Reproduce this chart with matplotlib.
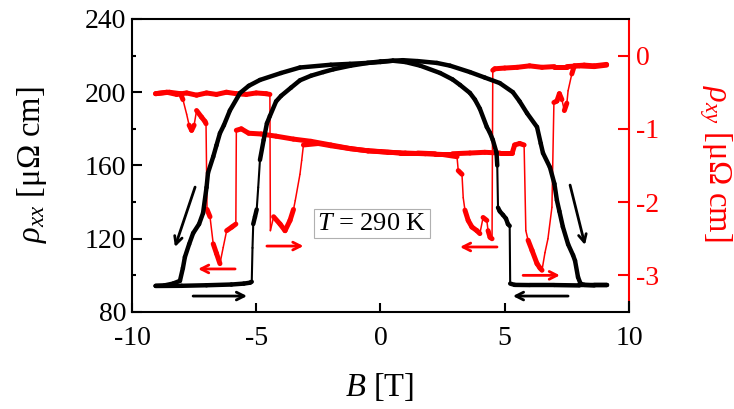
import numpy as np
import matplotlib
matplotlib.use('Agg')
import matplotlib.pyplot as plt
from matplotlib.collections import LineCollection

plt.rcParams['font.family'] = ['Liberation Serif', 'DejaVu Serif']
plt.rcParams['mathtext.fontset'] = 'custom'
plt.rcParams['mathtext.rm'] = 'Liberation Serif'
plt.rcParams['mathtext.it'] = 'Liberation Serif:italic'
plt.rcParams['axes.unicode_minus'] = False

# ---------------- data ----------------
# rho_xx, sweep -9 T -> +9 T
rxx_up_B = [-9.05, -8.0, -7.0, -6.0, -5.5, -5.25, -5.18, -5.15, -5.12, -5.05, -4.98, -4.92,
            -4.85, -4.7, -4.57, -4.45, -4.2, -4.0, -3.6, -3.24, -2.8, -2.3, -1.9, -1.2, -0.5,
            0.0, 0.5, 0.9, 1.5, 2.27, 2.8, 3.6, 4.2, 4.8, 5.33, 5.6, 5.9, 6.3, 6.45, 6.54,
            6.82, 7.0, 7.1, 7.2, 7.34, 7.55, 7.75, 7.83, 7.95, 8.05, 8.2, 8.6, 9.1]
rxx_up = [94.2, 94.3, 94.6, 95.0, 95.5, 96.0, 96.5, 115, 128, 132, 136, 148,
          163, 174, 183, 187, 195, 198, 202.5, 206.5, 209, 211, 212.5, 214.5, 216,
          216.5, 217.2, 217.5, 217, 216, 214.5, 211, 208, 205, 200, 195, 188.5, 181, 172, 166.8,
          159, 150, 141, 135, 126.5, 117, 111, 108, 99, 95.5, 94.8, 94.5, 94.5]

# rho_xx, sweep +9 T -> -9 T
rxx_dn_B = [9.1, 8.0, 7.0, 6.0, 5.4, 5.22, 5.2, 5.13, 5.05, 4.93, 4.8, 4.73, 4.7, 4.67,
            4.52, 4.4, 4.28, 4.0, 3.8, 3.6, 3.2, 2.9, 2.4, 1.6, 1.0, 0.5, 0.0, -0.54, -1.23,
            -2.0, -3.24, -4.0, -4.85, -5.3, -5.65, -6.06, -6.3, -6.46, -6.6, -6.73, -6.94,
            -7.0, -7.14, -7.3, -7.54, -7.7, -7.87, -7.95, -8.07, -8.35, -8.7, -9.05]
rxx_dn = [94.5, 94.5, 94.7, 94.7, 94.8, 95.5, 127, 128, 131, 133, 135, 137, 160, 167,
          174, 178, 181, 191, 196, 199.6, 204, 207, 210.5, 214.5, 216.5, 217.2, 216.8, 216, 215.5,
          215, 213.5, 210.5, 206.7, 203.5, 199.6, 190, 182, 177.6, 171, 164.8, 156,
          148, 134, 128, 123, 117, 110, 104, 97, 95.5, 94.5, 94.3]

# rho_xy, sweep -9 T -> +9 T
rxy_up_B = [-9.05, -8.6, -8.2, -7.8, -7.4, -7.0, -6.6, -6.2, -5.8, -5.4, -5.0, -4.6, -4.45,
            -4.43, -4.3, -4.04, -3.84, -3.64, -3.5, -3.43, -3.24, -3.17, -3.1,
            -2.5, -2.0, -1.23, -0.5, 0.0, 0.8, 1.5, 2.2, 2.9, 3.6, 4.2, 4.8, 5.3,
            5.4, 5.6, 5.78, 5.85, 5.94, 6.1, 6.3, 6.42, 6.5, 6.62, 6.74, 6.9,
            6.98, 7.1, 7.2, 7.3, 7.4, 7.5, 7.55, 7.7, 7.8, 8.2, 8.6, 9.1]
rxy_up = [-0.52, -0.50, -0.53, -0.51, -0.54, -0.51, -0.53, -0.50, -0.52, -0.53, -0.51, -0.52, -0.53,
          -2.39, -2.2, -2.3, -2.39, -2.25, -2.1, -1.98, -1.62, -1.43, -1.22,
          -1.2, -1.23, -1.27, -1.3, -1.31, -1.33, -1.33, -1.34, -1.34, -1.33, -1.32, -1.33, -1.33,
          -1.22, -1.2, -1.22, -2.39, -2.52, -2.66, -2.84, -2.9, -2.93, -2.69, -2.5, -2.07,
          -0.64, -0.62, -0.52, -0.6, -0.75, -0.65, -0.48, -0.25, -0.14, -0.13, -0.14, -0.12]

# rho_xy, sweep +9 T -> -9 T
rxy_dn_B = [9.1, 8.6, 8.0, 7.5, 7.0, 6.5, 6.0, 5.5, 5.0, 4.6, 4.52,
            4.49, 4.41, 4.33, 4.28, 4.13, 4.0, 3.88, 3.68, 3.53, 3.4, 3.33, 3.28, 3.13,
            3.08, 2.5, 1.8, 1.0, 0.3, -0.5, -1.2, -2.0, -2.8, -3.5, -4.2, -4.8, -5.3, -5.6, -5.8,
            -5.82, -5.98, -6.19, -6.33, -6.46, -6.6, -6.73, -6.86, -6.98,
            -7.02, -7.06, -7.2, -7.4, -7.5, -7.6, -7.7, -7.8, -7.95, -8.05, -8.5, -9.05]
rxy_dn = [-0.13, -0.15, -0.14, -0.15, -0.15, -0.16, -0.14, -0.16, -0.17, -0.18, -0.2,
          -2.5, -2.48, -2.39, -2.25, -2.21, -2.43, -2.39, -2.34, -2.25, -2.11, -1.94, -1.62, -1.57,
          -1.38, -1.35, -1.34, -1.33, -1.32, -1.3, -1.27, -1.22, -1.17, -1.14, -1.1, -1.07, -1.06, -1.0, -1.02,
          -2.3, -2.34, -2.39, -2.62, -2.84, -2.7, -2.57, -2.2, -2.1,
          -0.93, -0.9, -0.84, -0.75, -0.95, -1.02, -0.95, -0.8, -0.6, -0.52, -0.5, -0.52]

x_ticks = [-10, -5, 0, 5, 10]
left_ticks = [80, 120, 160, 200, 240]
right_ticks = [0, -1, -2, -3]

RED = '#ff0000'

# ---------------- figure ----------------
fig = plt.figure(figsize=(7.34, 4.09), dpi=100)
ax1 = fig.add_axes([0.1798, 0.2372, 0.6771, 0.7164])
ax2 = ax1.twinx()

ax1.set_xlim(-10, 10)
ax1.set_ylim(80, 240)
ax2.set_ylim(-3.5, 0.5)

# black above red
ax1.set_zorder(ax2.get_zorder() + 1)
ax1.patch.set_visible(False)


def draw(ax, B, v, color, thick, thin, min_dy, ratio):
    B = np.asarray(B, float)
    v = np.asarray(v, float)
    pts = ax.transData.transform(np.column_stack([B, v]))
    d = np.diff(pts, axis=0)
    jump = (np.abs(d[:, 1]) > min_dy) & (np.abs(d[:, 0]) < ratio * np.abs(d[:, 1]))
    segs = np.stack([np.column_stack([B[:-1], v[:-1]]),
                     np.column_stack([B[1:], v[1:]])], axis=1)
    lw = np.where(jump, thin, thick)
    lc = LineCollection(segs, colors=color, linewidths=lw,
                        capstyle='round', joinstyle='round')
    ax.add_collection(lc)


draw(ax2, rxy_up_B, rxy_up, RED, 3.6, 1.1, 8, 0.3)
draw(ax2, rxy_dn_B, rxy_dn, RED, 3.6, 1.1, 8, 0.3)
draw(ax1, rxx_up_B, rxx_up, 'black', 3.2, 1.5, 20, 0.1)
draw(ax1, rxx_dn_B, rxx_dn, 'black', 3.2, 1.5, 20, 0.1)

# arrows
def arrow(ax, x0, y0, x1, y1, color):
    ax.annotate('', xy=(x1, y1), xytext=(x0, y0),
                arrowprops=dict(arrowstyle='->,head_length=0.55,head_width=0.28',
                                color=color, lw=2.0, shrinkA=0, shrinkB=0))

arrow(ax1, -7.46, 148.2, -8.27, 115.5, 'black')
arrow(ax1, -7.54, 88.7, -5.37, 88.7, 'black')
arrow(ax1, -5.85, 103.5, -7.34, 103.5, RED)
arrow(ax1, -4.57, 116.0, -3.1, 116.0, RED)
arrow(ax1, 4.69, 115.5, 3.2, 115.5, RED)
arrow(ax1, 5.74, 100.0, 7.22, 100.0, RED)
arrow(ax1, 7.55, 88.7, 5.33, 88.7, 'black')
arrow(ax1, 7.63, 149.3, 8.23, 116.6, 'black')

ax1.text(-0.36, 128.3, r'$T$ = 290 K', ha='center', va='center', fontsize=19,
         bbox=dict(boxstyle='square,pad=0.12', fc='white', ec='#b0b0b0', lw=0.8))

# ticks / spines
for sp in ['left', 'bottom', 'top', 'right']:
    ax1.spines[sp].set_linewidth(1.5)
    ax2.spines[sp].set_linewidth(1.5)
for sp in ['left', 'bottom', 'top']:
    ax2.spines[sp].set_visible(False)
ax1.spines['right'].set_bounds(80, 85.4)
ax2.spines['right'].set_bounds(-3.37, 0.5)
ax2.spines['right'].set_color(RED)

ax1.set_xticks(x_ticks)
ax1.set_xticklabels([str(t) for t in x_ticks])
ax1.set_yticks(left_ticks)
ax1.set_yticklabels([str(t) for t in left_ticks])
ax1.set_yticks([100, 140, 180, 220], minor=True)
ax2.set_yticks(right_ticks)
ax2.set_yticklabels([str(t) for t in right_ticks])

ax1.tick_params(axis='x', which='both', direction='in', length=6.5, width=1.5,
                labelsize=20, pad=10, top=False)
ax1.tick_params(axis='y', which='major', direction='in', length=7, width=1.5,
                labelsize=20, pad=4, right=False)
ax1.tick_params(axis='y', which='minor', direction='in', length=3, width=1.5, right=False)
ax2.tick_params(axis='y', which='major', direction='in', length=8, width=1.5,
                labelsize=20, pad=5, colors=RED)

fig.text(32 / 734, 1 - 165 / 409, r'$\rho_{xx}$ [μΩ cm]', rotation=90,
         ha='center', va='center', fontsize=23.5)
fig.text(715 / 734, 1 - 163 / 409, r'$\rho_{xy}$ [μΩ cm]', rotation=270,
         ha='center', va='center', fontsize=23.5, color=RED)
fig.text(380 / 734, 1 - 387 / 409, r'$B$ [T]', ha='center', va='center', fontsize=23.5)

fig.savefig('out.png', dpi=100)
